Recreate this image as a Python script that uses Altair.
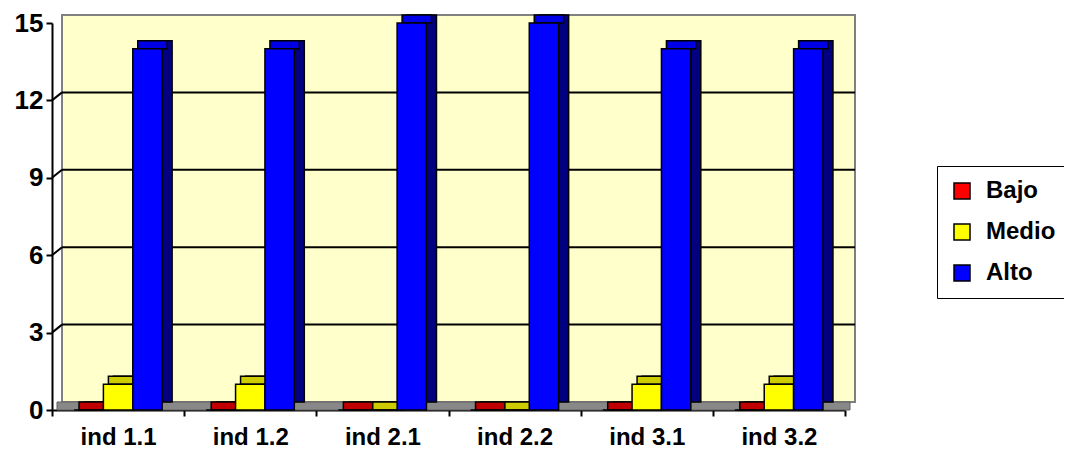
import altair as alt
import pandas as pd

categories = ["ind 1.1", "ind 1.2", "ind 2.1", "ind 2.2", "ind 3.1", "ind 3.2"]
series = ["Bajo", "Medio", "Alto"]
bajo = [0, 0, 0, 0, 0, 0]
medio = [1, 1, 0, 0, 1, 1]
alto = [14, 14, 15, 15, 14, 14]
y_ticks = [0, 3, 6, 9, 12, 15]
grid_values = [3, 6, 9, 12]

front_colors = ["#FF0000", "#FFFF00", "#0000FF"]
top_colors = ["#C00000", "#CCCC00", "#0000E6"]
side_colors = ["#800000", "#808000", "#000080"]

W, H = 793, 387
DX, DY = 10, 8
FONT = "Liberation Sans"
PAD_OUT = 0.75  # outer padding of the series offset scale (in bar widths)

rows = []
for s, vals in zip(series, [bajo, medio, alto]):
    for c, v in zip(categories, vals):
        rows.append({"cat": c, "series": s, "value": v})
df = pd.DataFrame(rows)

xs = alt.X("cat:N", sort=categories,
           scale=alt.Scale(paddingInner=0, paddingOuter=0),
           axis=alt.Axis(title=None, labelAngle=0, tickBand="extent",
                         labelFont=FONT, labelFontSize=24, labelFontWeight="bold",
                         labelColor="black", labelPadding=9,
                         domainColor="black", domainWidth=2,
                         tickColor="black", tickWidth=2, tickSize=6))


def xo(align):
    return alt.XOffset("series:N", sort=series,
                       scale=alt.Scale(domain=series, paddingInner=0,
                                       paddingOuter=PAD_OUT, align=align))


ys = alt.Y("value:Q",
           scale=alt.Scale(domain=[0, 15], nice=False),
           axis=alt.Axis(title=None, values=y_ticks, grid=False,
                         labelFont=FONT, labelFontSize=26, labelFontWeight="bold",
                         labelColor="black", labelPadding=3,
                         domainColor="black", domainWidth=2,
                         tickColor="black", tickWidth=2, tickSize=6))

one = pd.DataFrame({"a": [0]})

wall = alt.Chart(one).mark_rect(fill="#FFFFCC", stroke="#808080", strokeWidth=2).encode(
    x=alt.value(DX), x2=alt.value(W + DX), y=alt.value(-DY), y2=alt.value(H - DY))
floor = alt.Chart(one).mark_rect(fill="#888888", stroke="#606060", strokeWidth=1).encode(
    x=alt.value(DX / 2), x2=alt.value(W + DX / 2), y=alt.value(H - DY), y2=alt.value(H))

gdf = pd.DataFrame({"value": grid_values})
grid = alt.Chart(gdf).mark_rule(color="black", strokeWidth=2, yOffset=-DY, y2Offset=-DY).encode(
    x=alt.value(DX), x2=alt.value(W + DX), y=ys, y2="value:Q")
diag = alt.Chart(gdf).mark_rule(color="black", strokeWidth=2, y2Offset=-DY).encode(
    x=alt.value(0), x2=alt.value(DX), y=ys, y2="value:Q")

outer = PAD_OUT * 2 * (W / len(categories)) / (len(series) + 2 * PAD_OUT)
base_left = outer / 2

base = alt.Chart(df)
side = base.mark_bar(yOffset=-DY, y2Offset=-DY, stroke="black", strokeWidth=1.5).encode(
    x=xs, xOffset=xo((base_left + DX) / outer), y=ys, y2=alt.Y2(datum=0),
    color=alt.Color("series:N", scale=alt.Scale(domain=series, range=side_colors), legend=None))
top = base.mark_bar(yOffset=-DY, stroke="black", strokeWidth=1.5).encode(
    x=xs, xOffset=xo((base_left + DX / 2) / outer), y=ys, y2="value:Q",
    color=alt.Color("series:N", scale=alt.Scale(domain=series, range=top_colors), legend=None))
front = base.mark_bar(stroke="black", strokeWidth=1.5).encode(
    x=xs, xOffset=xo(base_left / outer), y=ys,
    color=alt.Color("series:N", sort=series,
                    scale=alt.Scale(domain=series, range=front_colors),
                    legend=alt.Legend(title=None, orient="none", legendX=885, legendY=143,
                                      symbolType="square", symbolSize=256,
                                      symbolStrokeColor="black", symbolStrokeWidth=1.5,
                                      symbolOpacity=1,
                                      labelFont=FONT, labelFontSize=24, labelFontWeight="bold",
                                      labelColor="black", labelOffset=12,
                                      strokeColor="black", padding=13, rowPadding=17,
                                      labelLimit=300)))

chart = alt.layer(wall, floor, grid, diag, side, top, front).resolve_scale(
    color="independent", xOffset="independent"
).properties(
    width=W, height=H,
    autosize=alt.AutoSizeParams(type="none"),
    padding={"left": 44, "top": 15, "right": 1072 - 16 - 44 - W, "bottom": 457 - 16 - 15 - H},
    background="white",
).configure_view(stroke=None)

chart.save("out.html", embed_options={"renderer": "svg", "actions": False})
